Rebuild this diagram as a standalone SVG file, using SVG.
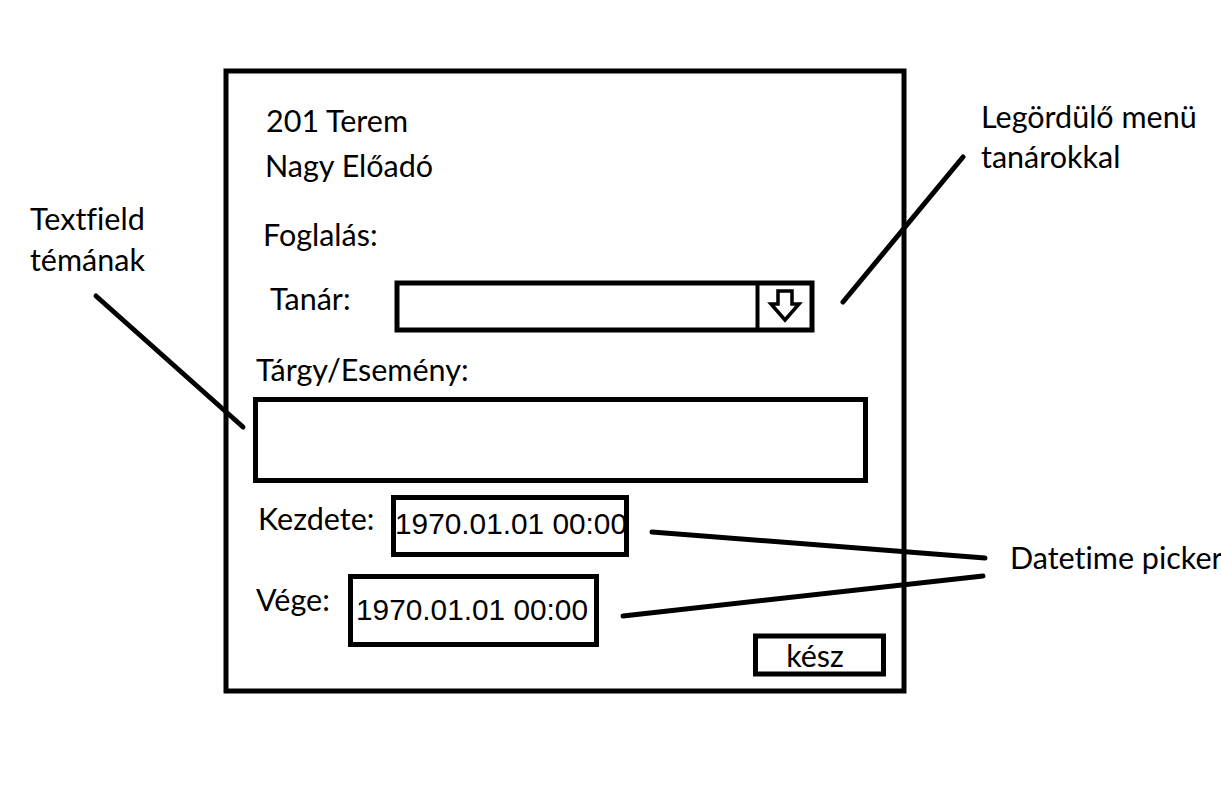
<svg xmlns="http://www.w3.org/2000/svg" width="1221" height="810" viewBox="0 0 1221 810">
<style>
.box{fill:#fff;stroke:#000;stroke-width:5}
.t{font-family:Lato,"Open Sans",sans-serif;font-size:30.5px;fill:#000;font-variant-ligatures:none}
.d{font-family:"Liberation Sans",Arial,sans-serif;font-size:29.8px;fill:#000}
.ln{stroke:#000;stroke-width:5;stroke-linecap:round;fill:none}
</style>
<rect width="1221" height="810" fill="#fff"/>
<g id="window">
<rect class="box" x="226" y="71" width="678" height="620"/>
</g>
<g id="title">
<text class="t" x="266" y="132">201 Terem</text>
<text class="t" x="265" y="177">Nagy Előadó</text>
</g>
<g id="foglalas"><text class="t" x="263" y="246">Foglalás:</text></g>
<g id="tanar-label"><text class="t" x="270" y="310">Tanár:</text></g>
<g id="tanar-dropdown">
<rect class="box" x="397" y="283" width="415" height="47"/>
<line x1="757.5" y1="283" x2="757.5" y2="330" stroke="#000" stroke-width="4"/>
<path d="M778 291 L792 291 L792 304 L799 304 L785 320 L771 304 L778 304 Z" fill="#fff" stroke="#000" stroke-width="3.5" stroke-linejoin="miter"/>
</g>
<g id="targy-label"><text class="t" x="256" y="381">Tárgy/Esemény:</text></g>
<g id="targy-field"><rect class="box" x="255.5" y="399.5" width="610" height="81"/></g>
<g id="kezdete-label"><text class="t" x="258" y="530">Kezdete:</text></g>
<g id="kezdete-picker">
<rect class="box" x="393.5" y="497.5" width="233" height="57"/>
<text class="d" x="395" y="534">1970.01.01 00:00</text>
</g>
<g id="vege-label"><text class="t" x="256" y="611">Vége:</text></g>
<g id="vege-picker">
<rect class="box" x="350.5" y="576.5" width="246" height="68"/>
<text class="d" x="356" y="620">1970.01.01 00:00</text>
</g>
<g id="kesz-button">
<rect class="box" x="755.5" y="636" width="128" height="38"/>
<text class="t" x="815" y="667" text-anchor="middle">kész</text>
</g>
<g id="note-textfield">
<text class="t" x="30" y="230">Textfield</text>
<text class="t" x="30" y="271">témának</text>
</g>
<g id="note-dropdown">
<text class="t" x="981" y="128">Legördülő menü</text>
<text class="t" x="981" y="168">tanárokkal</text>
</g>
<g id="note-datetime">
<text class="t" x="1010" y="569">Datetime picker</text>
</g>
<g id="connectors">
<line class="ln" x1="96" y1="296" x2="243" y2="427"/>
<line class="ln" x1="963" y1="157" x2="843" y2="302"/>
<line class="ln" x1="652" y1="532" x2="985" y2="558"/>
<line class="ln" x1="623" y1="616" x2="983" y2="576"/>
</g>
</svg>
